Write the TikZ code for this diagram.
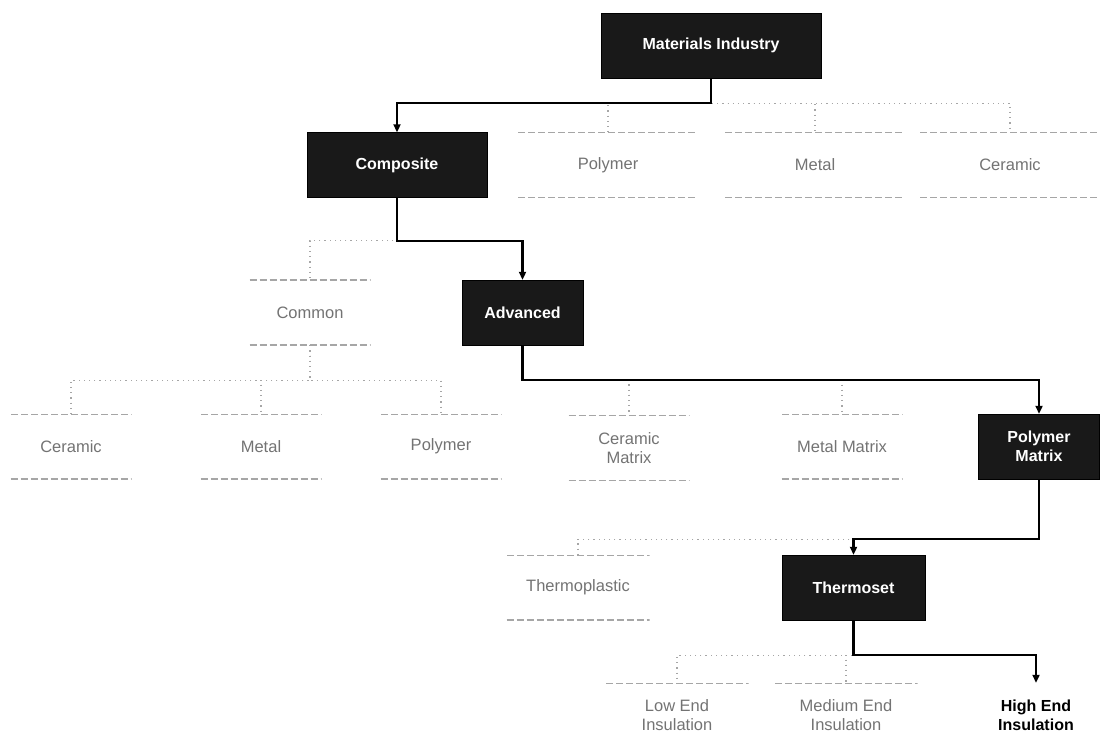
\documentclass[tikz,border=0pt]{standalone}
\usepackage{fontspec}
\setmainfont{Liberation Sans}
\usetikzlibrary{arrows.meta}
\begin{document}
\begin{tikzpicture}[x=1pt,y=-1pt,
  hl/.style={fill=black!90, draw=black, text=white, minimum height=65pt, inner sep=0pt,
    align=center, font=\fontsize{16}{19}\selectfont\bfseries},
  hleaf/.style={minimum height=65pt, inner sep=0pt, align=center, text=black,
    font=\fontsize{16}{19}\selectfont\bfseries},
  fd/.style={minimum height=65pt, inner sep=0pt, align=center, text=black!55,
    font=\fontsize{16.5}{19}\selectfont,
    path picture={\draw[black!35, line width=1.6pt, dash pattern=on 7pt off 3pt]
      (path picture bounding box.north west) -- (path picture bounding box.north east)
      (path picture bounding box.south west) -- (path picture bounding box.south east);}},
  wA/.style={minimum width=220pt},
  wB/.style={minimum width=180pt},
  wC/.style={minimum width=121pt},
  wD/.style={minimum width=143pt},
  link/.style={draw=black, line width=2.2pt, -{Triangle[length=8pt,width=7pt]}},
  flink/.style={draw=black!35, line width=1.2pt, dash pattern=on 1.2pt off 4pt}
]
\useasboundingbox (0,0) rectangle (1100,743);

% level 0
\node[hl, wA] (mi) at (711,45.5) {Materials Industry};
% level 1
\node[hl, wB] (comp) at (397,165) {Composite};
\node[fd, wB] (poly1) at (608,165) {Polymer};
\node[fd, wB] (met1) at (815,165) {Metal};
\node[fd, wB] (cer1) at (1010,165) {Ceramic};
% level 2
\node[fd, wC] (common) at (310,312.5) {Common};
\node[hl, wC] (adv) at (522.5,312.5) {Advanced};
% level 3
\node[fd, wC] (cer3) at (71,446.5) {Ceramic};
\node[fd, wC] (met3) at (261,446.5) {Metal};
\node[fd, wC] (poly3) at (441,446.5) {Polymer};
\node[fd, wC] (cm) at (629,448) {Ceramic\\Matrix};
\node[fd, wC] (mm) at (842,446.5) {Metal Matrix};
\node[hl, wC] (pm) at (1039,446.5) {Polymer\\Matrix};
% level 4
\node[fd, wD] (tp) at (578,587.5) {Thermoplastic};
\node[hl, wD] (ts) at (853.5,587.5) {Thermoset};
% level 5
\node[fd, wD] (le) at (677,715.5) {Low End\\Insulation};
\node[fd, wD] (me) at (846,715.5) {Medium End\\Insulation};
\node[hleaf, wD] (he) at (1036,715.5) {High End\\Insulation};

% faded connectors
\draw[flink] (mi.south) -- ++(0,25) -| (poly1.north);
\draw[flink] (mi.south) -- ++(0,25) -| (met1.north);
\draw[flink] (mi.south) -- ++(0,25) -| (cer1.north);
\draw[flink] (comp.south) -- ++(0,43) -| (common.north);
\draw[flink] (common.south) -- ++(0,35) -| (cer3.north);
\draw[flink] (common.south) -- ++(0,35) -| (met3.north);
\draw[flink] (common.south) -- ++(0,35) -| (poly3.north);
\draw[flink] (adv.south) -- ++(0,35) -| (cm.north);
\draw[flink] (adv.south) -- ++(0,35) -| (mm.north);
\draw[flink] (pm.south) -- ++(0,60) -| (tp.north);
\draw[flink] (ts.south) -- ++(0,35) -| (le.north);
\draw[flink] (ts.south) -- ++(0,35) -| (me.north);

% highlighted path
\draw[link] (mi.south) -- ++(0,25) -| (comp.north);
\draw[link] (comp.south) -- ++(0,43) -| (adv.north);
\draw[link] (adv.south) -- ++(0,35) -| (pm.north);
\draw[link] (pm.south) -- ++(0,60) -| (ts.north);
\draw[link] (ts.south) -- ++(0,35) -| (he.north);
\end{tikzpicture}
\end{document}
